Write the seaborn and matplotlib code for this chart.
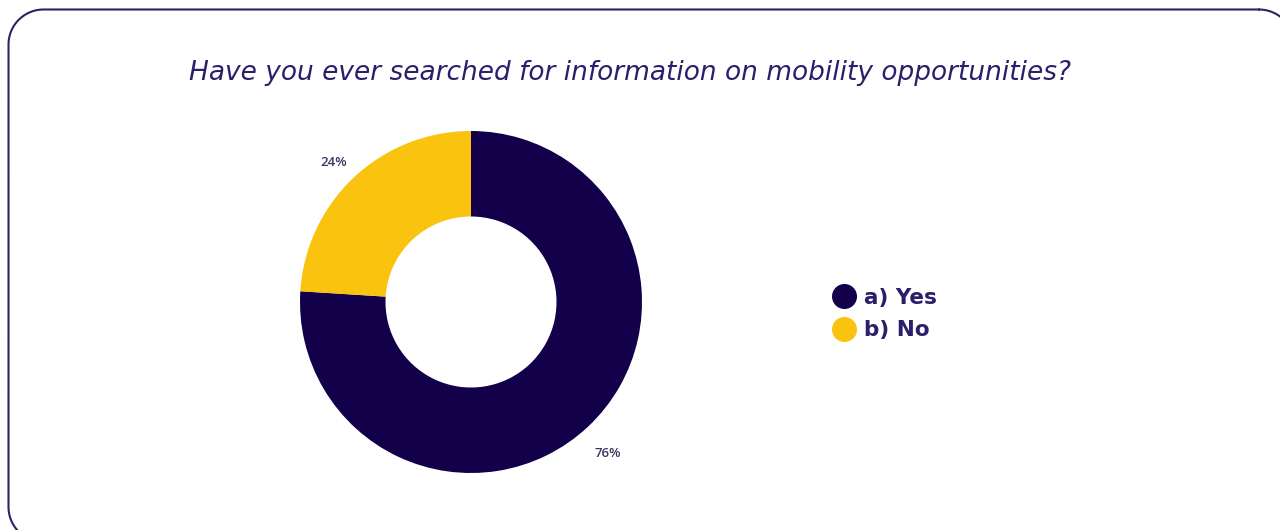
import matplotlib
matplotlib.use("Agg")
import matplotlib.pyplot as plt
import numpy as np
from matplotlib.lines import Line2D
from matplotlib.transforms import ScaledTranslation
import seaborn as sns

# Survey answers
answers = ["a) Yes", "b) No"]
shares = [76, 24]
colors = ["#13004A", "#F9C30F"]
title = "Have you ever searched for information on mobility opportunities?"

sns.set_theme(style="white")
plt.rcParams["font.family"] = ["Open Sans", "DejaVu Sans"]

W, H = 1280, 530
fig = plt.figure(figsize=(W / 100, H / 100), dpi=100)
fig.patch.set_facecolor("white")

# Overlay in pixel units (y downwards) for the rounded card outline
bg = fig.add_axes([0, 0, 1, 1])
bg.set_xlim(0, W)
bg.set_ylim(H, 0)
bg.axis("off")


def rounded_outline(x0, y0, x1, y1, rad, n=40):
    pts = []
    corners = [(x1 - rad, y0 + rad, -90, 0), (x1 - rad, y1 - rad, 0, 90),
               (x0 + rad, y1 - rad, 90, 180), (x0 + rad, y0 + rad, 180, 270)]
    for ccx, ccy, a0, a1 in corners:
        t = np.radians(np.linspace(a0, a1, n))
        pts.append(np.column_stack([ccx + rad * np.cos(t), ccy + rad * np.sin(t)]))
    pts = np.vstack(pts + [pts[0][:1]])
    return pts[:, 0], pts[:, 1]


ox, oy = rounded_outline(8.5, 9.5, 1294, 542, 35)
bg.plot(ox, oy, color="#2B2366", lw=1.5, solid_capstyle="round")

# Donut axes: centre and radius in pixels
cx, cy, r = 471, H - 302, 171
span = 1.2
side = 2 * span * r
ax = fig.add_axes([(cx - side / 2) / W, (cy - side / 2) / H, side / W, side / H])

wedges, _, autotexts = ax.pie(
    shares, colors=colors, startangle=90, counterclock=False,
    autopct="%d%%", pctdistance=1.17,
    wedgeprops=dict(width=0.5, edgecolor="none"),
    textprops=dict(color="#3A3560", fontsize=9.5, weight="semibold"),
)
shift = ScaledTranslation(0, -6 / 100, fig.dpi_scale_trans)
for t in autotexts:
    t.set_transform(ax.transData + shift)
ax.set_xlim(-span, span)
ax.set_ylim(-span, span)
ax.set_aspect("equal")
ax.axis("off")

fig.text(630 / W, 1 - 73 / H, title, ha="center", va="center",
         fontsize=19, style="italic", color="#2A1F6B",
         family="DejaVu Sans")

handles = [Line2D([0], [0], marker="o", linestyle="none", markersize=17,
                  markerfacecolor=c, markeredgecolor=c) for c in colors]
leg = fig.legend(handles, answers, loc="center left",
                 bbox_to_anchor=(812 / W, 1 - 314 / H), frameon=False,
                 handletextpad=0.3, labelspacing=0.6, handlelength=1.2,
                 prop=dict(size=15.5, weight="bold", family="DejaVu Sans"))
for t in leg.get_texts():
    t.set_color("#2A1F6B")

fig.savefig("out.png", dpi=100, facecolor="white")
